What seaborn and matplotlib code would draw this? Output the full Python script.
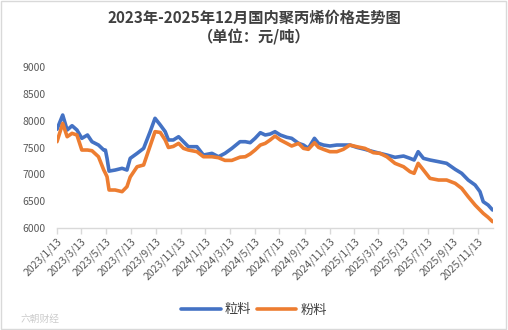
import matplotlib
matplotlib.use("Agg")
import matplotlib.pyplot as plt
import seaborn as sns
import pandas as pd
from matplotlib.lines import Line2D

start_date = "2023-01-13"
# days after 2023-01-13 at which values were read
day_offsets = [0, 14, 25, 37, 49, 61, 75, 86, 102, 115, 119, 123, 128, 143, 160, 172, 180, 197,
               213, 229, 241, 254, 266, 274, 286, 299, 311, 323, 344, 360, 381, 397, 413, 430,
               450, 463, 475,
               487, 500, 512, 524, 536, 549, 565, 577, 594, 606, 618, 633, 643, 655, 671, 688,
               704, 720, 737, 757, 778, 794, 811, 831, 852, 868, 878, 888, 901, 917, 938, 958,
               979, 995, 1011, 1028, 1040, 1048, 1060, 1071]

granular = [7840, 8105, 7826, 7906, 7826, 7671, 7733, 7608, 7546, 7453, 7453, 7300, 7060, 7080,
            7112, 7080, 7298, 7391, 7484, 7795, 8044, 7919, 7795, 7640, 7640, 7701, 7608, 7515,
            7515, 7360, 7391, 7328, 7391, 7484, 7608, 7608, 7590,
            7671, 7776, 7733, 7751, 7795, 7733, 7690, 7671, 7577, 7546, 7484, 7671, 7577, 7546,
            7528, 7546, 7546, 7546, 7503, 7466, 7422, 7391, 7360, 7317, 7341, 7298, 7267, 7422,
            7298, 7267, 7236, 7205, 7093, 7019, 6894, 6801, 6677, 6490, 6428, 6335]

powder = [7608, 7950, 7701, 7764, 7733, 7453, 7453, 7440, 7328, 7080, 7020, 6956, 6708, 6708,
          6677, 6770, 6950, 7142, 7174, 7530, 7795, 7780, 7640, 7500, 7520, 7577, 7484, 7453,
          7422, 7328, 7328, 7310, 7260, 7260, 7320, 7328, 7380,
          7453, 7546, 7577, 7640, 7714, 7640, 7577, 7528, 7577, 7484, 7466, 7589, 7503, 7466,
          7422, 7422, 7466, 7546, 7515, 7484, 7403, 7391, 7328, 7205, 7142, 7049, 7019, 7205,
          7080, 6925, 6894, 6894, 6832, 6739, 6583, 6428, 6335, 6273, 6199, 6118]

series_names = ["粒料", "粉料"]
series_colors = ["#4472C4", "#ED7D31"]
tick_dates = ["2023-01-13","2023-03-13","2023-05-13","2023-07-13","2023-09-13","2023-11-13",
              "2024-01-13","2024-03-13","2024-05-13","2024-07-13","2024-09-13","2024-11-13",
              "2025-01-13","2025-03-13","2025-05-13","2025-07-13","2025-09-13","2025-11-13"]
tick_labels = ["2023/1/13","2023/3/13","2023/5/13","2023/7/13","2023/9/13","2023/11/13",
               "2024/1/13","2024/3/13","2024/5/13","2024/7/13","2024/9/13","2024/11/13",
               "2025/1/13","2025/3/13","2025/5/13","2025/7/13","2025/9/13","2025/11/13"]
y_ticks = [6000, 6500, 7000, 7500, 8000, 8500, 9000]

dates = pd.Timestamp(start_date) + pd.to_timedelta(day_offsets, unit="D")
df = pd.DataFrame({
    "date": list(dates) * 2,
    "price": granular + powder,
    "kind": [series_names[0]] * len(dates) + [series_names[1]] * len(dates),
})

sns.set_theme(style="white")
plt.rcParams["font.family"] = ["Noto Sans CJK SC", "DejaVu Sans"]

fig = plt.figure(figsize=(5.08, 3.30), dpi=100)
ax = fig.add_axes([57/508, 1 - 228/330, (493 - 57)/508, (228 - 67)/330])

sns.lineplot(data=df, x="date", y="price", hue="kind", palette=series_colors,
             linewidth=2.6, ax=ax, legend=False)

ax.set_xlim(pd.Timestamp("2023-01-13"), pd.Timestamp("2025-12-20"))
ax.set_ylim(6000, 9000)
ax.set_yticks(y_ticks)
ax.set_yticklabels([str(v) for v in y_ticks], fontsize=7.5, color="#595959")
ax.set_xticks(pd.to_datetime(tick_dates))
ax.set_xticklabels(tick_labels, rotation=45, ha="right", rotation_mode="anchor",
                   fontsize=7.5, color="#595959")
ax.set_xlabel("")
ax.set_ylabel("")
for s in ["top", "right", "left"]:
    ax.spines[s].set_visible(False)
ax.spines["bottom"].set_color("#D9D9D9")
ax.spines["bottom"].set_linewidth(1)
ax.tick_params(axis="x", length=4, width=1, color="#D9D9D9", pad=2, bottom=True)
ax.tick_params(axis="y", length=0, pad=8)
ax.grid(False)

fig.text(0.5, 1 - 18/330, "2023年-2025年12月国内聚丙烯价格走势图", ha="center", va="center",
         fontsize=11, fontweight="bold", color="#404040")
fig.text(0.5, 1 - 37/330, "（单位：元/吨）", ha="center", va="center",
         fontsize=11, fontweight="bold", color="#404040")

handles = [Line2D([], [], color=c, linewidth=2.6) for c in series_colors]
fig.legend(handles, series_names, loc="center", bbox_to_anchor=(0.5, 1 - 310/330), ncol=2,
           frameon=False, fontsize=9.5, handlelength=3.0, handletextpad=0.3, columnspacing=0.4,
           labelcolor="#404040")

fig.text(0.04, 1 - 319/330, "六朝财经", fontsize=7, color="#CCCCCC", va="center")

border = plt.Rectangle((0.002, 0.003), 0.995, 0.994, transform=fig.transFigure, fill=False,
                       edgecolor="#D9D9D9", linewidth=1)
fig.patches.append(border)

fig.savefig("out.png", dpi=100)
